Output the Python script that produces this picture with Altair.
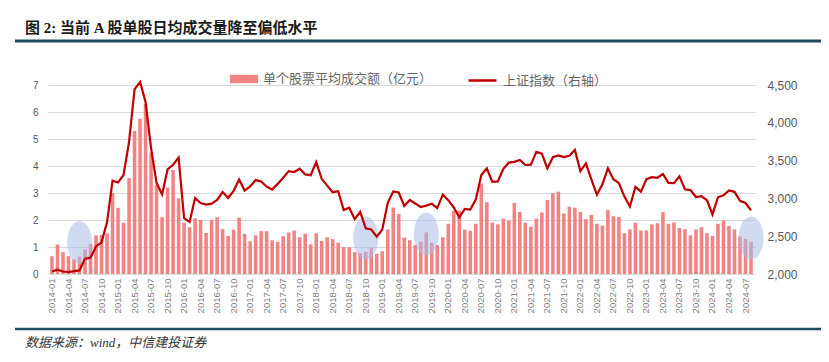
import altair as alt
import pandas as pd

# ---- data ----
months = [f"{y}-{m:02d}" for y in range(2014, 2025) for m in range(1, 13)][:128]

# 单个股票平均成交额（亿元）
volume = [
    0.66, 1.09, 0.81, 0.66, 0.55, 0.65, 0.91, 1.11, 1.43, 1.45, 1.50, 3.00,
    2.45, 1.90, 3.55, 5.30, 5.75, 6.30, 4.50, 3.30, 2.10, 3.20, 3.85, 2.80,
    1.90, 1.73, 2.06, 2.00, 1.52, 2.00, 2.10, 1.66, 1.41, 1.64, 2.09, 1.49,
    1.21, 1.43, 1.59, 1.59, 1.25, 1.19, 1.40, 1.54, 1.61, 1.36, 1.49, 1.10,
    1.51, 1.22, 1.36, 1.29, 1.16, 1.00, 0.99, 0.81, 0.77, 0.82, 0.97, 0.75,
    0.84, 1.65, 2.46, 2.22, 1.35, 1.25, 1.07, 1.20, 1.54, 1.16, 1.07, 1.36,
    1.86, 2.35, 2.34, 1.64, 1.60, 1.86, 3.35, 2.66, 1.91, 1.84, 2.05, 1.98,
    2.63, 2.30, 1.90, 1.75, 2.05, 2.28, 2.74, 2.99, 3.05, 2.24, 2.49, 2.46,
    2.30, 2.03, 2.19, 1.86, 1.79, 2.36, 2.14, 2.11, 1.51, 1.65, 1.90, 1.61,
    1.61, 1.84, 1.88, 2.29, 1.86, 1.91, 1.70, 1.66, 1.43, 1.65, 1.73, 1.51,
    1.41, 1.86, 1.99, 1.78, 1.65, 1.39, 1.30, 1.19,
]

# 上证指数（右轴）
sh_index = [
    2033, 2056, 2033, 2026, 2039, 2048, 2201, 2217, 2364, 2420, 2683, 3235,
    3210, 3310, 3748, 4442, 4540, 4277, 3664, 3206, 3053, 3383, 3445, 3539,
    2738, 2688, 3004, 2938, 2917, 2930, 2979, 3085, 3005, 3100, 3250, 3104,
    3159, 3242, 3223, 3155, 3117, 3192, 3273, 3361, 3349, 3393, 3317, 3307,
    3481, 3259, 3169, 3082, 3095, 2847, 2876, 2725, 2821, 2603, 2588, 2494,
    2585, 2941, 3091, 3078, 2899, 2979, 2932, 2886, 2905, 2929, 2872, 3050,
    2977, 2880, 2750, 2860, 2852, 2985, 3310, 3396, 3218, 3225, 3392, 3473,
    3483, 3509, 3442, 3447, 3615, 3591, 3397, 3544, 3568, 3547, 3564, 3640,
    3361, 3462, 3252, 3047, 3186, 3399, 3253, 3202, 3024, 2893, 3151, 3089,
    3255, 3280, 3273, 3323, 3205, 3202, 3291, 3120, 3110, 3018, 3030, 2975,
    2789, 3015, 3041, 3105, 3087, 2967, 2939, 2842,
]

# highlighted low-turnover periods (blue ellipses)
highlight_months = ["2014-06", "2018-10", "2019-09", "2024-08"]
highlight_level = [1.17, 1.33, 1.48, 1.33]

bar_name = "单个股票平均成交额（亿元）"
line_name = "上证指数（右轴）"
title_text = "图 2:  当前 A 股单股日均成交量降至偏低水平"
source_text = "数据来源：wind，中信建投证券"

df = pd.DataFrame({
    "month": months,
    "vol": volume,
    "idx": sh_index,
    "bar_name": [bar_name] * len(months),
    "line_name": [line_name] * len(months),
})
hl = pd.DataFrame({"month": highlight_months, "level": highlight_level})
one = pd.DataFrame({"k": [0]})

# ---- styles ----
PINK = "#f28383"
RED = "#c00000"
TEAL = "#1f4d5e"
GRID = "#d9d9d9"
AXIS_TXT = "#595959"
SANS = "Liberation Sans, Noto Sans CJK SC"
CJK = "Noto Sans CJK SC"
MIXED_SERIF = "Liberation Serif, Noto Sans CJK SC"
ELLIPSE = "M-0.58,0A0.58,1,0,1,0,0.58,0A0.58,1,0,1,0,-0.58,0Z"

x_enc = alt.X(
    "month:N",
    sort=months,
    scale=alt.Scale(paddingInner=0.35, paddingOuter=0.4),
    axis=alt.Axis(
        values=months[::3], labelAngle=-90, domain=False, ticks=False,
        labelPadding=4, labelFontSize=9.5, labelColor="#808080",
        labelFont=SANS, title=None, grid=False, labelOverlap=False,
    ),
)

bars = alt.Chart(df).mark_bar().encode(
    x=x_enc,
    y=alt.Y(
        "vol:Q",
        scale=alt.Scale(domain=[0, 7], nice=False),
        axis=alt.Axis(
            values=list(range(8)), domain=False, ticks=False, labelPadding=10,
            labelFontSize=10, labelColor=AXIS_TXT, labelFont=SANS,
            grid=True, gridColor=GRID, gridWidth=1, title=None,
        ),
    ),
    fill=alt.Fill(
        "bar_name:N",
        scale=alt.Scale(range=[PINK]),
        legend=alt.Legend(
            title=None, orient="none", legendX=182, legendY=-20, padding=0,
            symbolType="M-1,-0.3L1,-0.3L1,0.3L-1,0.3Z", symbolSize=784,
            symbolStrokeWidth=0, labelFontSize=13, labelColor="#666666",
            labelFont=CJK, labelOffset=5, labelLimit=400,
        ),
    ),
)

ellipses = alt.Chart(hl).mark_point(
    shape=ELLIPSE, filled=True, size=1849, color="#a9bce6", opacity=0.55, strokeWidth=0
).encode(
    x=alt.X("month:N", sort=months),
    y=alt.Y("level:Q", scale=alt.Scale(domain=[0, 7], nice=False), axis=None),
)

line = alt.Chart(df).mark_line(strokeWidth=2.2).encode(
    x=x_enc,
    y=alt.Y(
        "idx:Q",
        scale=alt.Scale(domain=[2000, 4500], nice=False),
        axis=alt.Axis(
            orient="right", values=[2000, 2500, 3000, 3500, 4000, 4500], format=",.0f",
            domain=False, ticks=False, grid=False, labelPadding=12,
            labelFontSize=12, labelColor=AXIS_TXT, labelFont=SANS, title=None,
        ),
    ),
    stroke=alt.Stroke(
        "line_name:N",
        scale=alt.Scale(range=[RED]),
        legend=alt.Legend(
            title=None, orient="none", legendX=419, legendY=-20, padding=0,
            symbolType="stroke", symbolSize=784, symbolStrokeWidth=2.5,
            labelFontSize=13, labelColor="#666666", labelFont=CJK,
            labelOffset=5, labelLimit=400,
        ),
    ),
)

top_rule = alt.Chart(one).mark_rule(color=TEAL, strokeWidth=3).encode(
    x=alt.value(-33), x2=alt.value(781), y=alt.value(-44)
)
bottom_rule = alt.Chart(one).mark_rule(color=TEAL, strokeWidth=2.5).encode(
    x=alt.value(-33), x2=alt.value(781), y=alt.value(244)
)
title = alt.Chart(one).mark_text(
    align="left", baseline="middle", fontSize=15, fontWeight="bold",
    font=MIXED_SERIF, color="#1a1a1a",
).encode(x=alt.value(-23), y=alt.value(-57), text=alt.value(title_text))
source = alt.Chart(one).mark_text(
    align="left", baseline="middle", fontSize=13, fontStyle="italic",
    font=MIXED_SERIF, color="#333333",
).encode(x=alt.value(-23), y=alt.value(258), text=alt.value(source_text))

chart = (
    alt.layer(bars, ellipses, line, top_rule, bottom_rule, title, source)
    .resolve_scale(y="independent")
    .properties(
        width=707, height=189,
        autosize=alt.AutoSizeParams(type="none"),
        padding={"left": 40, "top": 77, "right": 66, "bottom": 78},
        background="white",
    )
    .configure_view(stroke=None)
)

chart.save("out.html", embed_options={"renderer": "svg", "actions": False})
